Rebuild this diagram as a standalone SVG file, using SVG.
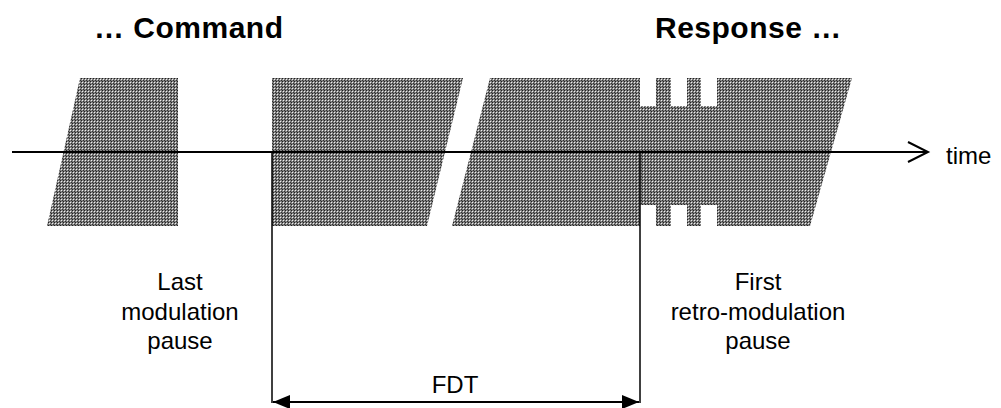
<svg xmlns="http://www.w3.org/2000/svg" width="1001" height="408" viewBox="0 0 1001 408">
<style>
.title{font-family:"Liberation Sans",Arial,sans-serif;font-weight:bold;font-size:30px;letter-spacing:0.5px;fill:#000}
.lbl{font-family:"Liberation Sans",Arial,sans-serif;font-size:24px;fill:#000;text-anchor:middle}
.line{stroke:#000;fill:none}
.sig{fill:url(#dither);stroke:none}
</style>
<defs>
<pattern id="dither" width="3" height="3" patternUnits="userSpaceOnUse">
<rect width="3" height="3" fill="#808080"/>
<rect x="0" y="0" width="1" height="1" fill="#202020"/>
<rect x="2" y="2" width="1" height="1" fill="#303030"/>
<rect x="1" y="1" width="1" height="1" fill="#f0f0f0"/>
</pattern>
<marker id="open" markerWidth="24" markerHeight="24" refX="21" refY="11" orient="auto" markerUnits="userSpaceOnUse">
<path d="M1,1 L21,11 L1,21" fill="none" stroke="#000" stroke-width="2"/>
</marker>
<marker id="solid" markerWidth="18" markerHeight="16" refX="17" refY="8" orient="auto-start-reverse" markerUnits="userSpaceOnUse">
<path d="M0,1 L17,8 L0,15 Z" fill="#000"/>
</marker>
</defs>
<g id="signal-command">
<polygon class="sig" points="80,78 178,78 178,226 47,226"/>
</g>
<g id="signal-fdt">
<polygon class="sig" points="272,78 463,78 427,226 272,226"/>
</g>
<g id="signal-response">
<polygon class="sig" points="490,78 640,78 640,106 656,106 656,78 671,78 671,106 687,106 687,78 701,78 701,106 717,106 717,78 852,78 810,226 717,226 717,205 701,205 701,226 687,226 687,205 671,205 671,226 656,226 656,205 640,205 640,226 452,226"/>
</g>
<g id="connectors">
<line class="line" x1="12" y1="152" x2="928" y2="152" stroke-width="2" marker-end="url(#open)"/>
<line class="line" x1="272" y1="152" x2="272" y2="403" stroke-width="1.5"/>
<line class="line" x1="640" y1="152" x2="640" y2="403" stroke-width="1.5"/>
<line class="line" x1="273" y1="402" x2="639" y2="402" stroke-width="2" marker-start="url(#solid)" marker-end="url(#solid)"/>
</g>
<g id="labels">
<text class="title" x="94" y="38">… Command</text>
<text class="title" x="655" y="38">Response …</text>
<text class="lbl" x="180" y="290">Last</text>
<text class="lbl" x="180" y="320">modulation</text>
<text class="lbl" x="180" y="349">pause</text>
<text class="lbl" x="758" y="290">First</text>
<text class="lbl" x="758" y="320">retro-modulation</text>
<text class="lbl" x="758" y="349">pause</text>
<text class="lbl" x="455" y="393">FDT</text>
<text class="lbl" x="946" y="164" style="text-anchor:start">time</text>
</g>
</svg>
